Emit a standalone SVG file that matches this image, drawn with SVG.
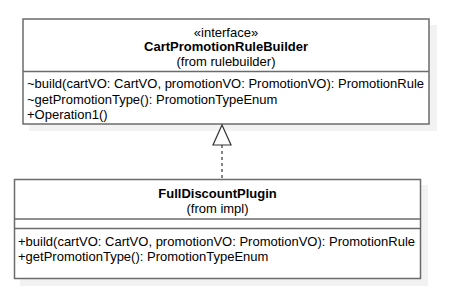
<svg xmlns="http://www.w3.org/2000/svg" width="451" height="288" viewBox="0 0 451 288">
<style>
.shadow{fill:#f2f2f2;stroke:none}
.box{fill:#ffffff;stroke:#6b6b6b;stroke-width:1.5}
.div{stroke:#6b6b6b;stroke-width:1.5}
text{font-family:"Liberation Sans",Arial,sans-serif;font-size:13px;fill:#000}
.c{text-anchor:middle}
.b{font-weight:bold}
.edge{stroke:#333;stroke-width:1.2;fill:none;stroke-dasharray:3,3}
.head{fill:#fff;stroke:#333;stroke-width:1.2}
</style>
<rect width="451" height="288" fill="#fff"/>
<g id="CartPromotionRuleBuilder">
<rect class="shadow" x="29" y="25" width="408" height="106"/>
<rect class="box" x="23" y="19" width="406" height="105"/>
<line class="div" x1="23" y1="71.5" x2="429" y2="71.5"/>
<text class="c" x="226" y="36.5">«interface»</text>
<text class="c b" x="226" y="51">CartPromotionRuleBuilder</text>
<text class="c" x="226" y="66">(from rulebuilder)</text>
<text x="27" y="87.5">~build(cartVO: CartVO, promotionVO: PromotionVO): PromotionRule</text>
<text x="27" y="103.5">~getPromotionType(): PromotionTypeEnum</text>
<text x="27" y="119">+Operation1()</text>
</g>
<g id="FullDiscountPlugin">
<rect class="shadow" x="20" y="185" width="408" height="101"/>
<rect class="box" x="14.5" y="179.5" width="406" height="99"/>
<line class="div" x1="14.5" y1="219" x2="420.5" y2="219"/>
<line class="div" x1="14.5" y1="228.5" x2="420.5" y2="228.5"/>
<text class="c b" x="217.5" y="197.5">FullDiscountPlugin</text>
<text class="c" x="217.5" y="213">(from impl)</text>
<text x="18" y="245.5">+build(cartVO: CartVO, promotionVO: PromotionVO): PromotionRule</text>
<text x="18" y="261">+getPromotionType(): PromotionTypeEnum</text>
</g>
<g id="connectors">
<line class="edge" x1="222" y1="145" x2="222" y2="179"/>
<polygon class="head" points="222,125 213,145 231,145"/>
</g>
</svg>
